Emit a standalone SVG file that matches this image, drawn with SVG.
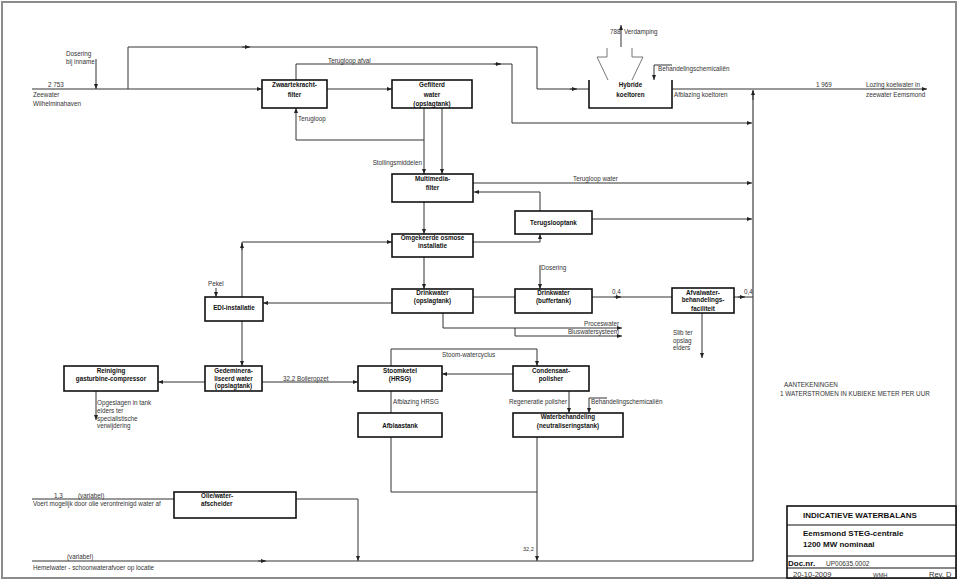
<svg xmlns="http://www.w3.org/2000/svg" width="959" height="582" viewBox="0 0 959 582">
<defs>
<marker id="ah" viewBox="0 0 6 6" refX="6" refY="3" markerWidth="5" markerHeight="5" orient="auto" markerUnits="userSpaceOnUse"><path d="M0,0.6 L6,3 L0,5.4 z" fill="#222"/></marker>
<style>
.c{fill:none;stroke:#333;stroke-width:1}
.g{fill:none;stroke:#8c8c8c;stroke-width:2}
.b{fill:#fff;stroke:#111;stroke-width:1.6}
.k{fill:none;stroke:#777;stroke-width:1}
.t{font-family:"Liberation Sans",Arial,sans-serif;font-size:6.3px;fill:#333}
.tb{font-family:"Liberation Sans",Arial,sans-serif;font-size:6.3px;font-weight:bold;fill:#111;text-anchor:middle}
.tt{font-family:"Liberation Sans",Arial,sans-serif;font-size:8px;font-weight:bold;fill:#111}
.tr{font-family:"Liberation Sans",Arial,sans-serif;font-size:7.5px;fill:#333}
.e{text-anchor:end}
</style>
</defs>
<rect x="0" y="0" width="959" height="582" fill="#fff"/>
<rect x="2" y="2" width="954" height="576" class="g"/>

<g id="connectors">
<path class="c" d="M32,89 H262" marker-end="url(#ah)"/>
<path class="c" d="M96,59 V89" marker-end="url(#ah)"/>
<path class="c" d="M128,89 V47 H537 V89 H589"/>
<path class="c" d="M242,47 H250" marker-end="url(#ah)"/>
<path class="c" d="M570,89 H577" marker-end="url(#ah)"/>
<path class="c" d="M327,89 H392" marker-end="url(#ah)"/>
<path class="c" d="M296,80 V64 H512 V123 H752" marker-end="url(#ah)"/>
<path class="c" d="M494,64 H501" marker-end="url(#ah)"/>
<path class="c" d="M424,140 H296 V108" marker-end="url(#ah)"/>
<path class="c" d="M424,108 V174" marker-end="url(#ah)"/>
<path class="c" d="M442,108 V174" marker-end="url(#ah)"/>
<path class="c" d="M621,47 V25" marker-end="url(#ah)"/>
<path class="c" d="M672,65 H654 V80" marker-end="url(#ah)"/>
<path class="c" d="M672,89 H927" marker-end="url(#ah)"/>
<path class="g" d="M753,561 V91"/>
<path class="c" d="M753,100 V90" marker-end="url(#ah)"/>
<path class="c" d="M473,183 H752" marker-end="url(#ah)"/>
<path class="c" d="M540,211 V192 H474" marker-end="url(#ah)"/>
<path class="c" d="M592,219 H752" marker-end="url(#ah)"/>
<path class="c" d="M424,202 V234" marker-end="url(#ah)"/>
<path class="c" d="M473,242 H540 V234" marker-end="url(#ah)"/>
<path class="c" d="M242,297 V242 H392" marker-end="url(#ah)"/>
<path class="c" d="M242,250 V243" marker-end="url(#ah)"/>
<path class="c" d="M424,257 V289" marker-end="url(#ah)"/>
<path class="c" d="M540,265 V289" marker-end="url(#ah)"/>
<path class="c" d="M392,303 H263" marker-end="url(#ah)"/>
<path class="c" d="M473,297 H515"/>
<path class="c" d="M592,297 H672"/>
<path class="c" d="M614,297 H621" marker-end="url(#ah)"/>
<path class="c" d="M734,297 H753"/>
<path class="c" d="M738,297 H745" marker-end="url(#ah)"/>
<path class="c" d="M443,313 V328 H622" marker-end="url(#ah)"/>
<path class="c" d="M515,328 V336 H622" marker-end="url(#ah)"/>
<path class="c" d="M702,313 V358" marker-end="url(#ah)"/>
<path class="c" d="M216,288 V297" marker-end="url(#ah)"/>
<path class="c" d="M242,321 V366" marker-end="url(#ah)"/>
<path class="c" d="M205,382 H158" marker-end="url(#ah)"/>
<path class="c" d="M262,382 H358" marker-end="url(#ah)"/>
<path class="c" d="M391,366 V349 H537 V366" marker-end="url(#ah)"/>
<path class="c" d="M513,374 H442" marker-end="url(#ah)"/>
<path class="c" d="M391,391 V413"/>
<path class="c" d="M569,391 V413" marker-end="url(#ah)"/>
<path class="c" d="M607,398 H589 V413" marker-end="url(#ah)"/>
<path class="c" d="M96,391 V420" marker-end="url(#ah)"/>
<path class="c" d="M391,437 V492 H537"/>
<path class="c" d="M537,437 V561" marker-end="url(#ah)"/>
<path class="c" d="M32,499 H174"/>
<path class="c" d="M296,499 H358 V561" marker-end="url(#ah)"/>
<path class="c" d="M32,561 H753"/>
<path class="c" d="M258,561 H266" marker-end="url(#ah)"/>
</g>

<g id="labels">
<text class="t" x="66" y="55.5">Dosering</text>
<text class="t" x="66" y="63.5">bij inname</text>
<text class="t" x="48" y="87">2 753</text>
<text class="t" x="33" y="97">Zeewater</text>
<text class="t" x="33" y="106">Wilhelminahaven</text>
<text class="t" x="328" y="63">Terugloop afval</text>
<text class="t" x="610" y="34">788</text>
<text class="t" x="624" y="34">Verdamping</text>
<text class="t" x="658" y="71">Behandelingschemicaliën</text>
<text class="t" x="674" y="97">Afblazing koeltoren</text>
<text class="t" x="816" y="87">1 969</text>
<text class="t" x="866" y="87">Lozing koelwater in</text>
<text class="t" x="866" y="97">zeewater Eemsmond</text>
<text class="t" x="298" y="121">Terugloop</text>
<text class="t e" x="422" y="165">Stollingsmiddelen</text>
<text class="t" x="573" y="181">Terugloop water</text>
<text class="t" x="541" y="270">Dosering</text>
<text class="t" x="208" y="286">Pekel</text>
<text class="t" x="612" y="294">0,4</text>
<text class="t" x="744" y="294">0,4</text>
<text class="t e" x="619" y="326">Proceswater</text>
<text class="t e" x="619" y="334">Bluswatersysteem</text>
<text class="t" x="673" y="335">Slib ter</text>
<text class="t" x="673" y="342.5">opslag</text>
<text class="t" x="673" y="350">elders</text>
<text class="t" x="442" y="357">Stoom-watercyclus</text>
<text class="t" x="283" y="381">32,2 Boileropzet</text>
<text class="t" x="393" y="404">Afblazing HRSG</text>
<text class="t e" x="567" y="404">Regeneratie polisher</text>
<text class="t" x="591" y="404">Behandelingschemicaliën</text>
<text class="t" x="97" y="404.5">Opgeslagen in tank</text>
<text class="t" x="97" y="413">elders ter</text>
<text class="t" x="97" y="420.5">specialistische</text>
<text class="t" x="97" y="428">verwijdering</text>
<text class="t" x="784" y="387">AANTEKENINGEN</text>
<text class="t" x="780" y="395.5">1 WATERSTROMEN IN KUBIEKE METER PER UUR</text>
<text class="t" x="54" y="498">1,3</text>
<text class="t" x="78" y="498">(variabel)</text>
<text class="t" x="33" y="505.5">Voert mogelijk door olie verontreinigd water af</text>
<text class="t" x="67" y="559">(variabel)</text>
<text class="t" x="33" y="569.5">Hemelwater - schoonwaterafvoer op locatie</text>
<text class="t" x="523" y="551" style="font-size:5.5px">32,2</text>
</g>

<g id="zwaartekrachtfilter"><rect class="b" x="262" y="80" width="65" height="28"/><text class="tb" x="294.5" y="87">Zwaartekracht-</text><text class="tb" x="294.5" y="97">filter</text></g>
<g id="gefilterd-water"><rect class="b" x="392" y="80" width="80" height="28"/><text class="tb" x="432" y="87">Gefilterd</text><text class="tb" x="432" y="97">water</text><text class="tb" x="432" y="106">(opslagtank)</text></g>
<g id="hybride-koeltoren">
<polyline class="k" points="607,48 607,57 597,57 608,80"/>
<polyline class="k" points="632,48 632,57 643,57 632,80"/>
<path d="M589,80 V108 H672 V80" fill="none" stroke="#111" stroke-width="1.6"/>
<text class="tb" x="630.5" y="87">Hybride</text><text class="tb" x="630.5" y="97">koeltoren</text></g>
<g id="multimedia-filter"><rect class="b" x="392" y="174" width="81" height="28"/><text class="tb" x="432.5" y="180.5">Multimedia-</text><text class="tb" x="432.5" y="189.5">filter</text></g>
<g id="terugslooptank"><rect class="b" x="515" y="211" width="77" height="23"/><text class="tb" x="553.5" y="225">Terugslooptank</text></g>
<g id="omgekeerde-osmose"><rect class="b" x="392" y="234" width="81" height="23"/><text class="tb" x="432.5" y="239.5">Omgekeerde osmose</text><text class="tb" x="432.5" y="248">installatie</text></g>
<g id="edi-installatie"><rect class="b" x="205" y="297" width="58" height="24"/><text class="tb" x="234" y="310">EDI-installatie</text></g>
<g id="drinkwater-opslagtank"><rect class="b" x="392" y="289" width="81" height="24"/><text class="tb" x="432.5" y="295">Drinkwater</text><text class="tb" x="432.5" y="302.5">(opslagtank)</text></g>
<g id="drinkwater-buffertank"><rect class="b" x="515" y="289" width="77" height="24"/><text class="tb" x="553.5" y="295">Drinkwater</text><text class="tb" x="553.5" y="302.5">(buffertank)</text></g>
<g id="afvalwater"><rect class="b" x="672" y="288" width="62" height="25"/><text class="tb" x="703" y="295">Afvalwater-</text><text class="tb" x="703" y="302">behandelings-</text><text class="tb" x="703" y="310.5">faciliteit</text></g>
<g id="reiniging"><rect class="b" x="64" y="366" width="94" height="25"/><text class="tb" x="111" y="373">Reiniging</text><text class="tb" x="111" y="380.5">gasturbine-compressor</text></g>
<g id="gedemineraliseerd"><rect class="b" x="205" y="366" width="57" height="25"/><text class="tb" x="233.5" y="373">Gedeminera-</text><text class="tb" x="233.5" y="380.5">liseerd water</text><text class="tb" x="233.5" y="388">(opslagtank)</text></g>
<g id="stoomketel"><rect class="b" x="358" y="366" width="84" height="25"/><text class="tb" x="400" y="373">Stoomketel</text><text class="tb" x="400" y="380.5">(HRSG)</text></g>
<g id="condensaat"><rect class="b" x="513" y="366" width="76" height="25"/><text class="tb" x="551" y="373">Condensaat-</text><text class="tb" x="551" y="380.5">polisher</text></g>
<g id="afblaastank"><rect class="b" x="358" y="413" width="84" height="24"/><text class="tb" x="400" y="427.5">Afblaastank</text></g>
<g id="waterbehandeling"><rect class="b" x="513" y="413" width="110" height="24"/><text class="tb" x="568" y="419">Waterbehandeling</text><text class="tb" x="568" y="427.5">(neutraliseringstank)</text></g>
<g id="olie-water"><rect class="b" x="174" y="492" width="122" height="26"/><text class="tb" x="201" y="497.5" style="text-anchor:start">Olie/water-</text><text class="tb" x="201" y="505.5" style="text-anchor:start">afscheider</text></g>

<g id="titelblok">
<rect x="787" y="506" width="169" height="72" fill="#fff" stroke="#111" stroke-width="1.6"/>
<path d="M787,525 H956 M787,556 H956 M787,568 H956" stroke="#111" stroke-width="1.2"/>
<text class="tt" x="803" y="518">INDICATIEVE WATERBALANS</text>
<text class="tt" x="803" y="536">Eemsmond STEG-centrale</text>
<text class="tt" x="803" y="547">1200 MW nominaal</text>
<text class="tt" x="788" y="565.5">Doc.nr.</text>
<text class="tr" x="826" y="565.5" style="font-size:6.5px">UP00635.0002</text>
<text class="tr" x="793" y="576.5">20-10-2009</text>
<text class="tr" x="873" y="576.5" style="font-size:5.8px">WMH</text>
<text class="tr" x="929" y="576.5">Rev. D</text>
</g>
</svg>
